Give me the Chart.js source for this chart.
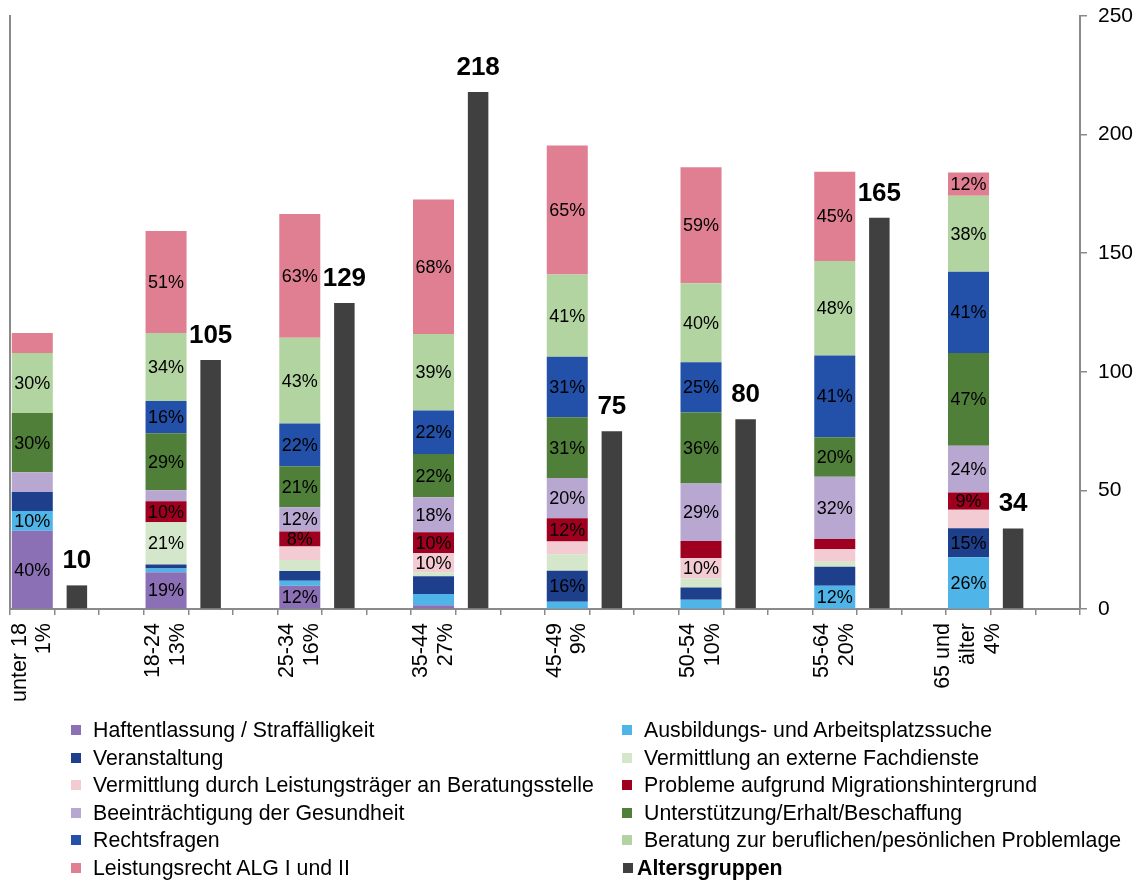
<!DOCTYPE html>
<html>
<head>
<meta charset="utf-8">
<script src="https://cdn.jsdelivr.net/npm/chart.js@4.4.1/dist/chart.umd.min.js"></script>
<style>
  body { margin: 0; background: #fff; }
  #wrap { position: relative; width: 1142px; height: 881px; }
  #legend { position: absolute; left: 0; top: 0; width: 1142px; height: 881px; pointer-events: none;
            font-family: "Liberation Sans", Arial, sans-serif; font-size: 21.3px; color: #000; }
  .item { position: absolute; white-space: nowrap; line-height: 24px; }
  .box { position: absolute; width: 10px; height: 10px; top: 7px; }
</style>
</head>
<body>
<div id="wrap">
  <canvas id="chart" width="1142" height="881"></canvas>
  <div id="legend"></div>
</div>
<script>
// Altersgruppen (x-Achse)
const groups = [
    ["unter 18", "1%"], ["18-24", "13%"], ["25-34", "16%"], ["35-44", "27%"],
    ["45-49", "9%"], ["50-54", "10%"], ["55-64", "20%"], ["65 und", "älter", "4%"]
];

// Anteile je Thema (gestapelt, linke Achse 0-300)
const haft     = [39.6, 18.6, 11.8, 2, 0, 0, 0, 0];
const ausb     = [10, 2, 2.5, 5.6, 3.7, 4.7, 11.8, 26.2];
const veran    = [9.6, 1.9, 5, 9, 15.7, 6.2, 9.6, 14.7];
const vermExt  = [0, 21.4, 5.6, 2, 8.4, 4.7, 2.5, 0];
const vermLT   = [0, 0, 6.8, 9.8, 6.4, 10.1, 6.4, 9.3];
const migr     = [0, 10.6, 7.6, 10.5, 11.8, 8.8, 5.1, 8.8];
const gesund   = [10, 5.6, 12.2, 17.7, 20.3, 29, 31.6, 23.6];
const unterst  = [30, 28.9, 20.8, 21.9, 30.7, 36, 19.9, 46.9];
const recht    = [0, 16.2, 21.6, 21.9, 30.7, 25.3, 41.4, 41.2];
const beratung = [30.4, 34.4, 43.4, 38.8, 41.5, 40, 47.8, 38.4];
const leist    = [10, 51.6, 62.6, 68, 65.3, 58.7, 45.1, 11.8];

// sichtbare Beschriftungen in den Segmenten
const haftL     = ["40%", "19%", "12%", "", "", "", "", ""];
const ausbL     = ["10%", "", "", "", "", "", "12%", "26%"];
const veranL    = ["", "", "", "", "16%", "", "", "15%"];
const vermExtL  = ["", "21%", "", "", "", "", "", ""];
const vermLTL   = ["", "", "", "10%", "", "10%", "", ""];
const migrL     = ["", "10%", "8%", "10%", "12%", "", "", "9%"];
const gesundL   = ["", "", "12%", "18%", "20%", "29%", "32%", "24%"];
const unterstL  = ["30%", "29%", "21%", "22%", "31%", "36%", "20%", "47%"];
const rechtL    = ["", "16%", "22%", "22%", "31%", "25%", "41%", "41%"];
const beratungL = ["30%", "34%", "43%", "39%", "41%", "40%", "48%", "38%"];
const leistL    = ["", "51%", "63%", "68%", "65%", "59%", "45%", "12%"];

// Anzahl je Altersgruppe (rechte Achse)
const alter = [10, 105, 129, 218, 75, 80, 165, 34];
const rightTicks = [0, 50, 100, 150, 200, 250];

const series = [
    { name: "Haftentlassung / Straffälligkeit", data: haft, lbl: haftL, color: "#8C70B5" },
    { name: "Ausbildungs- und Arbeitsplatzssuche", data: ausb, lbl: ausbL, color: "#4FB5E8" },
    { name: "Veranstaltung", data: veran, lbl: veranL, color: "#1E3F8C" },
    { name: "Vermittlung an externe Fachdienste", data: vermExt, lbl: vermExtL, color: "#D4E7CA" },
    { name: "Vermittlung durch Leistungsträger an Beratungsstelle", data: vermLT, lbl: vermLTL, color: "#F3CBD3" },
    { name: "Probleme aufgrund Migrationshintergrund", data: migr, lbl: migrL, color: "#A00020" },
    { name: "Beeinträchtigung der Gesundheit", data: gesund, lbl: gesundL, color: "#B8A7D1" },
    { name: "Unterstützung/Erhalt/Beschaffung", data: unterst, lbl: unterstL, color: "#507F3A" },
    { name: "Rechtsfragen", data: recht, lbl: rechtL, color: "#2350A8" },
    { name: "Beratung zur beruflichen/pesönlichen Problemlage", data: beratung, lbl: beratungL, color: "#B2D4A1" },
    { name: "Leistungsrecht ALG I und II", data: leist, lbl: leistL, color: "#E07F91" }
];

const FONT = '"Liberation Sans", Arial, sans-serif';
Chart.defaults.font.family = FONT;
Chart.defaults.color = "#000";

// 3 slots per group: stacked bar, count bar, gap
const labels = [];
groups.forEach(g => { labels.push(g); labels.push(""); labels.push(""); });

function spread(arr, slot) {
    const out = [];
    arr.forEach(v => {
        for (let s = 0; s < 3; s++) out.push(s === slot ? v : null);
    });
    return out;
}

const datasets = series.map(s => ({
    label: s.name,
    data: spread(s.data, 0),
    segLabels: spread(s.lbl, 0),
    backgroundColor: s.color,
    yAxisID: "y",
    grouped: false,
    categoryPercentage: 1,
    barPercentage: 0.92
}));

datasets.push({
    label: "Altersgruppen",
    data: spread(alter, 1),
    backgroundColor: "#404040",
    yAxisID: "y1",
    grouped: false,
    categoryPercentage: 1,
    barPercentage: 0.46,
    bold: true
});

// Werte in die Balken schreiben
const barText = {
    id: "barText",
    afterDatasetsDraw(chart) {
        const ctx = chart.ctx;
        ctx.save();
        ctx.textAlign = "center";
        chart.data.datasets.forEach((ds, i) => {
            const meta = chart.getDatasetMeta(i);
            meta.data.forEach((bar, j) => {
                if (ds.data[j] == null) return;
                if (ds.bold) {
                    ctx.font = "bold 26px " + FONT;
                    ctx.fillStyle = "#000";
                    ctx.textBaseline = "alphabetic";
                    ctx.fillText(String(ds.data[j]), bar.x, bar.y - 17);
                } else {
                    const t = ds.segLabels[j];
                    if (!t) return;
                    ctx.font = "18px " + FONT;
                    ctx.fillStyle = "#000";
                    ctx.textBaseline = "middle";
                    ctx.fillText(t, bar.x, (bar.y + bar.base) / 2 + 1);
                }
            });
        });
        ctx.restore();
    }
};

// mehrzeilige, gedrehte Achsenbeschriftung mittig unter die Gruppe
const centerLabels = {
    id: "centerLabels",
    beforeDraw(chart) {
        const scale = chart.scales.x;
        const lh = 25;
        scale.getLabelItems().forEach(item => {
            if (item.centered) return;
            const n = Array.isArray(item.label) ? item.label.length : 1;
            item.options.translation[0] -= (n - 1) * lh / 2;
            item.centered = true;
        });
    }
};

const chart = new Chart(document.getElementById("chart"), {
    type: "bar",
    data: { labels: labels, datasets: datasets },
    options: {
        responsive: false,
        animation: false,
        layout: { padding: { left: 10, right: -2, top: 16, bottom: 171 } },
        plugins: { legend: { display: false }, tooltip: { enabled: false } },
        scales: {
            x: {
                grid: { offset: true, drawOnChartArea: false, tickLength: 6, color: "#8a8a8a", lineWidth: 1.5 },
                border: { color: "#8a8a8a", width: 2 },
                ticks: { autoSkip: false, minRotation: 90, maxRotation: 90, padding: 8,
                         font: { size: 21.5, lineHeight: 1.15 }, color: "#000" }
            },
            y: {
                stacked: true,
                min: 0,
                max: 300,
                ticks: { display: false },
                grid: { drawOnChartArea: false, drawTicks: false },
                border: { color: "#8a8a8a", width: 2 }
            },
            y1: {
                position: "right",
                min: 0,
                max: 250,
                afterBuildTicks: (scale) => { scale.ticks = rightTicks.map(v => ({ value: v })); },
                afterFit: (scale) => { scale.paddingTop = 0; scale.paddingBottom = 0; },
                ticks: { padding: 11, font: { size: 21 }, color: "#000" },
                grid: { drawOnChartArea: false, tickLength: 7, color: "#8a8a8a", lineWidth: 1.5 },
                border: { color: "#8a8a8a", width: 2 }
            }
        }
    },
    plugins: [barText, centerLabels]
});

// Legende in zwei Spalten
const legend = document.getElementById("legend");
chart.data.datasets.forEach((ds, i) => {
    const col = i % 2;
    const row = Math.floor(i / 2);
    const item = document.createElement("div");
    item.className = "item";
    item.style.top = (718 + row * 27.6) + "px";
    const box = document.createElement("span");
    box.className = "box";
    box.style.background = ds.backgroundColor;
    const text = document.createElement("span");
    text.textContent = ds.label;
    if (ds.bold) {
        item.style.left = "623px";
        box.style.left = "0px";
        text.style.marginLeft = "14px";
        text.style.fontWeight = "bold";
    } else {
        item.style.left = (col ? 622 : 71) + "px";
        box.style.left = "0px";
        text.style.marginLeft = "22px";
    }
    item.appendChild(box);
    item.appendChild(text);
    legend.appendChild(item);
});
</script>
</body>
</html>
